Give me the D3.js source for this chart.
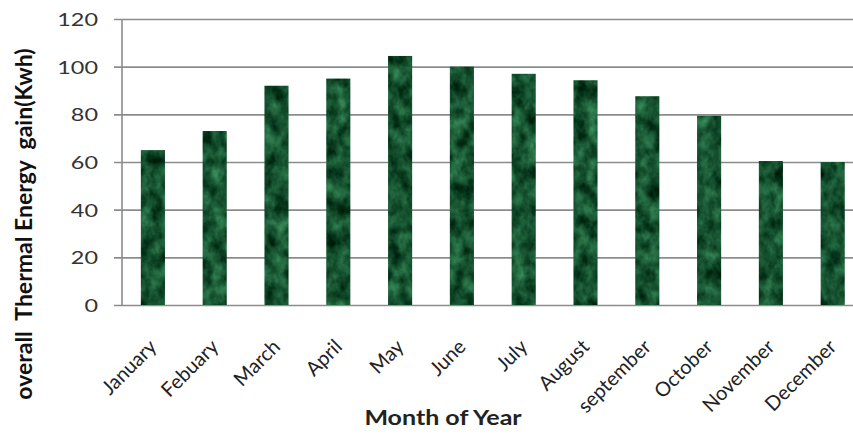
<!DOCTYPE html>
<html>
<head>
<meta charset="utf-8">
<script src="https://cdn.jsdelivr.net/npm/d3@7"></script>
<style>
  html, body { margin: 0; padding: 0; background: #fff; }
  svg { display: block; }
  text { font-family: Lato, "Open Sans", sans-serif; }
</style>
</head>
<body>
<svg id="chart" width="853" height="434"></svg>
<script>
// Monthly overall thermal energy gain
const months = ["January", "Febuary", "March", "April", "May", "June",
                "July", "August", "september", "October", "November", "December"];
const energyGain = [65, 73, 92, 95, 104.5, 100, 97, 94.3, 87.6, 79.4, 60.4, 60];
const yTicks = [0, 20, 40, 60, 80, 100, 120];

const svg = d3.select("#chart");
const plot = { left: 122, top: 19, bottom: 305, right: 863.6 };

const x = d3.scaleBand()
  .domain(months)
  .range([plot.left, plot.right])
  .paddingInner(0.61)
  .paddingOuter(0.305);

const y = d3.scaleLinear()
  .domain([0, 120])
  .range([plot.bottom, plot.top]);

// Marbled green texture for the bars
const defs = svg.append("defs");
const f = defs.append("filter")
  .attr("id", "marble")
  .attr("x", 0).attr("y", 0).attr("width", 1).attr("height", 1)
  .attr("color-interpolation-filters", "sRGB");
f.append("feTurbulence")
  .attr("type", "fractalNoise")
  .attr("baseFrequency", "0.08 0.06")
  .attr("numOctaves", 4)
  .attr("seed", 7)
  .attr("result", "noise");
f.append("feColorMatrix")
  .attr("in", "noise")
  .attr("type", "matrix")
  .attr("values", [
    0.35, 0, 0, 0, -0.09,
    0.60, 0, 0, 0, 0.02,
    0.45, 0, 0, 0, -0.04,
    0, 0, 0, 0, 1
  ].join(" "))
  .attr("result", "tint");
f.append("feComposite")
  .attr("in", "tint")
  .attr("in2", "SourceGraphic")
  .attr("operator", "in");

// Gridlines with small outward ticks
const yAxis = d3.axisLeft(y)
  .tickValues(yTicks)
  .tickSize(-(plot.right - plot.left))
  .tickSizeOuter(0)
  .tickPadding(0);

const gy = svg.append("g")
  .attr("transform", `translate(${plot.left},0)`)
  .call(yAxis);
gy.select(".domain").remove();
gy.selectAll(".tick line")
  .attr("x1", -8)
  .attr("stroke", "#8c8c8c")
  .attr("stroke-width", 1.6);
gy.selectAll(".tick text")
  .attr("x", 0)
  .attr("dy", "0.36em")
  .attr("transform", "translate(-24,0) scale(1.3,1)")
  .attr("fill", "#333")
  .style("font-size", "18px");

// Vertical axis line
svg.append("line")
  .attr("x1", plot.left).attr("x2", plot.left)
  .attr("y1", y(120)).attr("y2", y(0) + 0.5)
  .attr("stroke", "#8c8c8c")
  .attr("stroke-width", 1.6);

// Bars
svg.append("g")
  .selectAll("rect")
  .data(months.map((m, i) => ({ m, v: energyGain[i] })))
  .join("rect")
  .attr("x", d => x(d.m))
  .attr("width", x.bandwidth())
  .attr("y", d => y(d.v))
  .attr("height", d => y(0) - y(d.v))
  .attr("fill", "#1b5a33")
  .attr("filter", "url(#marble)");

// Rotated month labels
svg.append("g")
  .selectAll("text")
  .data(months)
  .join("text")
  .attr("transform", d => `translate(${x(d) + x.bandwidth() / 2 + 5},${plot.bottom + 43}) rotate(-45)`)
  .attr("text-anchor", "end")
  .attr("fill", "#222")
  .style("font-size", "20px")
  .text(d => d);

// Axis titles
svg.append("text")
  .attr("transform", "translate(443,425) scale(1.25,1)")
  .attr("text-anchor", "middle")
  .attr("fill", "#222")
  .style("font-size", "20px")
  .style("font-weight", "bold")
  .text("Month of Year");

svg.append("text")
  .attr("transform", "translate(32,224) rotate(-90)")
  .attr("text-anchor", "middle")
  .attr("fill", "#111")
  .style("font-size", "23px")
  .style("font-weight", "bold")
  .attr("xml:space", "preserve")
  .text("overall  Thermal Energy  gain(Kwh)");
</script>
</body>
</html>
